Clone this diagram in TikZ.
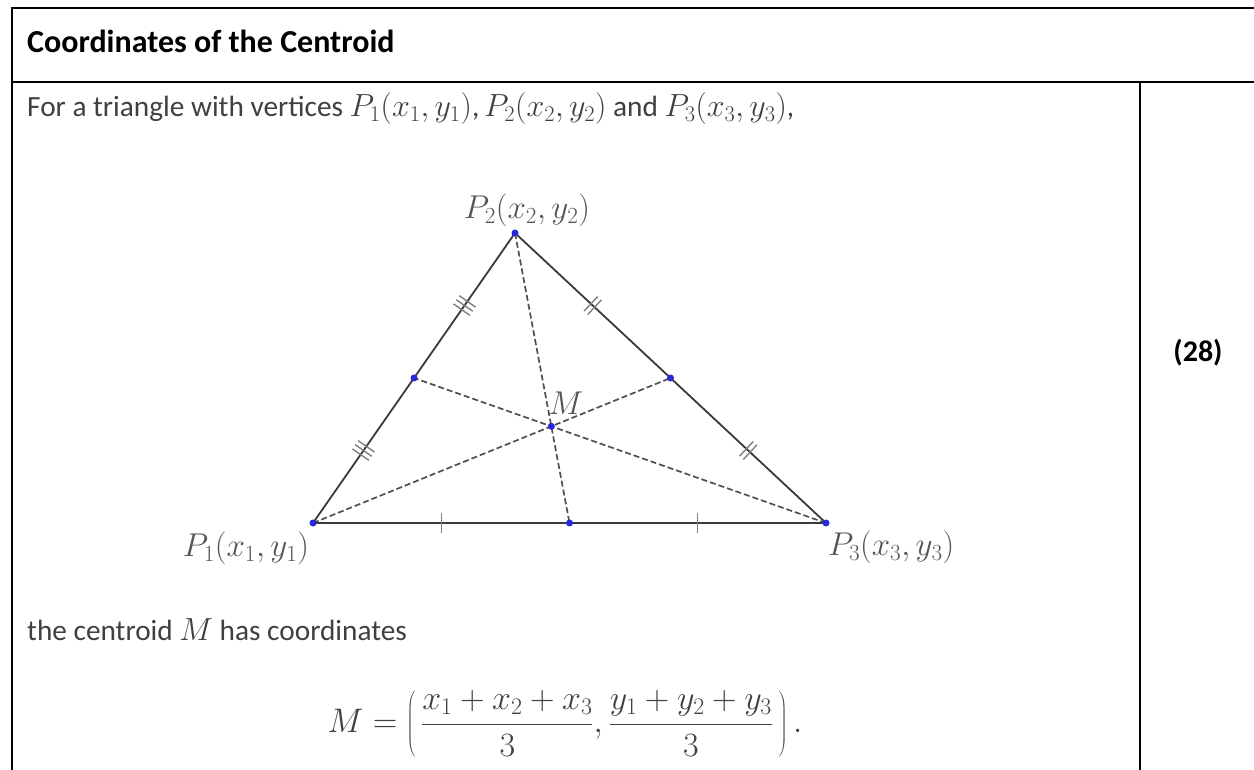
\documentclass[tikz,border=0pt]{standalone}
\usepackage{fix-cm}
\usepackage{fontspec}
\setmainfont{Carlito}
\usetikzlibrary{calc}
\definecolor{txt}{HTML}{404040}
\definecolor{lbl}{HTML}{555555}
\definecolor{side}{HTML}{3A3A3A}
\definecolor{med}{HTML}{505050}
\definecolor{tickc}{HTML}{808080}
\definecolor{dotc}{HTML}{2828D8}
\newcommand{\bm}[1]{{\fontsize{32}{38}\selectfont$#1$}}
\tikzset{
  frame/.style={line width=2.5pt, black},
  sideline/.style={line width=1.8pt, side},
  median/.style={line width=1.7pt, med, dash pattern=on 6pt off 3pt},
  tickline/.style={line width=1.4pt, tickc},
  vdot/.style={circle, fill=dotc, inner sep=0pt, minimum size=7pt},
  bodytext/.style={text=txt, inner sep=0pt, font=\fontsize{29.3}{35}\selectfont},
  ptlabel/.style={text=lbl, inner sep=0pt, font=\fontsize{33}{38}\selectfont},
}
\begin{document}
\begin{tikzpicture}[x=1pt,y=-1pt]
\useasboundingbox (0,0) rectangle (1254,770);
\fill[white] (0,0) rectangle (1254,770);
% frame
\coordinate (TL) at (12,8);
\coordinate (TR) at (1254,8);
\coordinate (HL) at (12,82);
\coordinate (HR) at (1254,82);
\coordinate (BL) at (12,770);
\coordinate (DT) at (1140,82);
\coordinate (DB) at (1140,770);
\draw[frame] (TR) -- (TL) -- (BL);
\draw[frame] (HL) -- (HR);
\draw[frame] (DT) -- (DB);
% texts
\node[anchor=base west, inner sep=0pt, font=\fontsize{32}{38}\selectfont\bfseries] (title) at (27,53) {Coordinates of the Centroid};
\node[bodytext, anchor=base west] (intro) at (27,117) {For a triangle with vertices \bm{P_1(x_1,y_1)},\,\bm{P_2(x_2,y_2)} and \bm{P_3(x_3,y_3)},};
\node[bodytext, anchor=base west] (concl) at (27,640) {the centroid \bm{M} has coordinates};
\node[text=txt, inner sep=0pt, font=\fontsize{34}{42}\selectfont, anchor=center] (formula) at (565,724) {$\displaystyle M=\left(\,\frac{x_1+x_2+x_3}{3},\frac{y_1+y_2+y_3}{3}\,\right).$};
\node[inner sep=0pt, font=\fontsize{30}{36}\selectfont\bfseries] (num) at (1198,353) {(28)};
% triangle
\coordinate (P1) at (313,523);
\coordinate (P2) at (515,233);
\coordinate (P3) at (826,523);
\coordinate (M12) at ($(P1)!0.5!(P2)$);
\coordinate (M23) at ($(P2)!0.5!(P3)$);
\coordinate (M13) at ($(P1)!0.5!(P3)$);
\coordinate (G) at ($1/3*(P1)+1/3*(P2)+1/3*(P3)$);
\draw[median] (P1) -- (M23);
\draw[median] (P3) -- (M12);
\draw[median] (P2) -- (M13);
\draw[sideline] (P1) -- (P2) -- (P3) -- cycle;
% ticks
\foreach \A/\B/\t/\o in {P1/P2/0.25/-5, P1/P2/0.25/0, P1/P2/0.25/5, P1/P2/0.75/-5, P1/P2/0.75/0, P1/P2/0.75/5,
  P2/P3/0.25/-2.5, P2/P3/0.25/2.5, P2/P3/0.75/-2.5, P2/P3/0.75/2.5,
  P1/P3/0.25/0, P1/P3/0.75/0}{
  \coordinate (tk) at ($(\A)!\t!(\B)$);
  \coordinate (tc) at ($(tk)!\o pt!(\B)$);
  \draw[tickline] ($(tc)!10pt!90:(\B)$) -- ($(tc)!10pt!-90:(\B)$);
}
% dots
\foreach \p in {P1,P2,P3,M12,M23,M13,G}{
  \node[vdot] at (\p) {};
}
% labels
\node[ptlabel] (l2) at (527,210) {$P_2(x_2,y_2)$};
\node[ptlabel] (l1) at (246,548) {$P_1(x_1,y_1)$};
\node[ptlabel, anchor=west] (l3) at (828,547) {$P_3(x_3,y_3)$};
\node[ptlabel] (lm) at (566,403) {$M$};
\end{tikzpicture}
\end{document}
